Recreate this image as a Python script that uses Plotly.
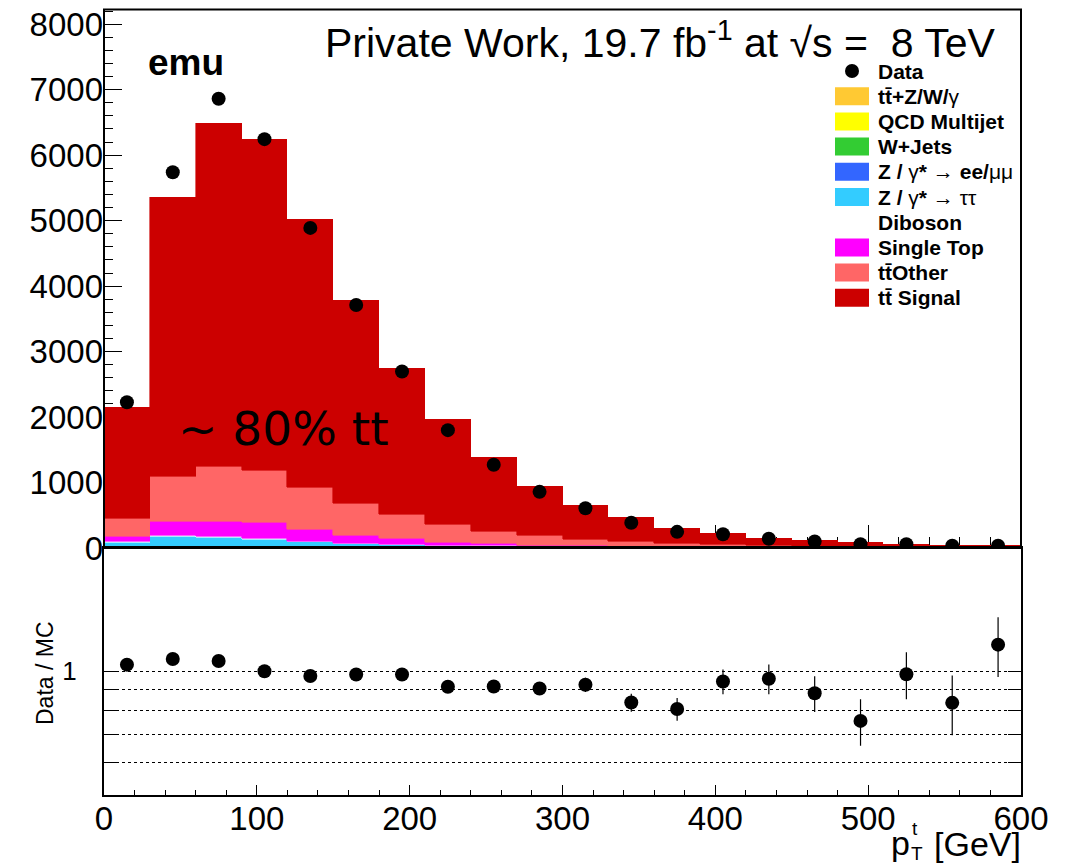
import numpy as np
import plotly.graph_objects as go

# ---------------------------------------------------------------- data
pt_centers = [15, 45, 75, 105, 135, 165, 195, 225, 255, 285,
              315, 345, 375, 405, 435, 465, 495, 525, 555, 585]
bin_width = 30

tt_v = [1, 12, 14, 13, 11, 9, 7, 5, 4, 3, 2, 1.5, 1, 1, 0.8, 0.6, 0.4, 0.3, 0.2, 0.2]
qcd = [0, 0, 0, 0, 0, 0, 0, 0, 0, 0, 0, 0, 0, 0, 0, 0, 0, 0, 0, 0]
w_jets = [1, 2, 2, 2, 1.5, 1, 1, 0.5, 0.5, 0.3, 0.2, 0.1, 0.1, 0.1, 0.1, 0, 0, 0, 0, 0]
z_ll = [10, 8, 7, 5, 4, 3, 2, 2, 1, 1, 0.5, 0.5, 0.3, 0.3, 0.2, 0.2, 0.1, 0.1, 0.1, 0.1]
z_tautau = [68, 155, 135, 112, 80, 54, 40, 30, 22, 15, 11, 8, 6, 4, 3, 2.5, 2, 1.5, 1, 0.8]
diboson = [12, 15, 15, 13, 10, 8, 6, 5, 4, 3, 2, 2, 1, 1, 1, 0.7, 0.5, 0.4, 0.3, 0.3]
single_top = [82, 208, 235, 243, 175, 119, 88, 47, 30, 23, 16, 10, 8, 6, 3, 2, 1, 0.7, 0.4, 0.6]
tt_other = [275, 695, 835, 803, 646, 484, 371, 272, 193, 153, 105, 70, 55, 39, 28, 24, 16, 12, 8, 6]
tt_signal = [1696, 4265, 5237, 5054, 4093, 3102, 2230, 1603, 1130, 747,
             518, 368, 234, 171, 112, 82, 58, 44, 33, 23]

data_counts = [2226, 5740, 6862, 6245, 4889, 3712, 2696, 1800, 1271, 858,
               607, 386, 247, 210, 142, 99, 59, 58, 36, 36]

x_ticks = [0, 100, 200, 300, 400, 500, 600]
y_ticks = [0, 1000, 2000, 3000, 4000, 5000, 6000, 7000, 8000]
ratio_grid = [0.6, 0.7, 0.8, 0.9, 1.0]

# stacking order: bottom -> top (legend lists them top -> bottom)
components = [
    ("ttV", tt_v, "#ffc933", "<b>tt\u0304+Z/W/</b>\u03b3"),
    ("QCD", qcd, "#ffff00", "<b>QCD Multijet</b>"),
    ("WJets", w_jets, "#33cc33", "<b>W+Jets</b>"),
    ("Zll", z_ll, "#3366ff", "<b>Z / </b>\u03b3<b>*</b> \u2192 <b>ee/</b>\u03bc\u03bc"),
    ("Ztautau", z_tautau, "#33ccff", "<b>Z / </b>\u03b3<b>*</b> \u2192 \u03c4\u03c4"),
    ("Diboson", diboson, "#ffffff", "<b>Diboson</b>"),
    ("SingleTop", single_top, "#ff00ff", "<b>Single Top</b>"),
    ("ttOther", tt_other, "#ff6666", "<b>tt\u0304Other</b>"),
    ("ttSignal", tt_signal, "#cc0000", "<b>tt\u0304 Signal</b>"),
]

mc_total = np.sum([np.array(c[1], dtype=float) for c in components], axis=0)
data_arr = np.array(data_counts, dtype=float)
data_err = np.sqrt(data_arr)
ratio = data_arr / mc_total
ratio_err = data_err / mc_total

# ---------------------------------------------------------------- figure
W, H = 1069, 864
X0, X1 = 104, 1021          # plot frame, pixels
TOP_Y0, SPLIT_Y, BOT_Y1 = 9.5, 548, 794.5


def px(x):
    return x / W


def py(y):
    return 1 - y / H


fig = go.Figure()

for name, vals, color, _ in components:
    fig.add_trace(go.Bar(
        x=pt_centers, y=vals, width=bin_width, name=name,
        marker=dict(color=color, line=dict(color=color, width=0.6)),
        xaxis="x", yaxis="y", showlegend=False, hoverinfo="skip",
    ))

fig.add_trace(go.Scatter(
    x=pt_centers, y=data_counts, mode="markers", name="Data",
    marker=dict(color="black", size=14),
    error_y=dict(type="data", array=data_err, color="black", thickness=1.2, width=0),
    xaxis="x", yaxis="y", showlegend=False,
))

fig.add_trace(go.Scatter(
    x=pt_centers, y=ratio, mode="markers", name="Data / MC",
    marker=dict(color="black", size=14),
    error_y=dict(type="data", array=ratio_err, color="black", thickness=1.2, width=0),
    xaxis="x2", yaxis="y2", showlegend=False,
))

font_main = "Liberation Sans, Arial, Helvetica, sans-serif"

fig.update_layout(
    width=W, height=H, autosize=False,
    margin=dict(l=0, r=0, t=0, b=0, autoexpand=False),
    paper_bgcolor="white", plot_bgcolor="white",
    barmode="stack", bargap=0,
    font=dict(family=font_main, color="black"),
    xaxis=dict(
        domain=[px(X0), px(X1)], anchor="y", range=[0, 600], automargin=False,
        tickvals=x_ticks, showticklabels=False,
        ticks="inside", ticklen=23, tickwidth=1.3, tickcolor="black",
        minor=dict(ticks="inside", ticklen=11, dtick=20, tickwidth=1.3, tickcolor="black"),
        showgrid=False, zeroline=False, showline=False, layer="below traces",
    ),
    yaxis=dict(
        domain=[py(SPLIT_Y), py(TOP_Y0)], anchor="x", range=[0, 8225], automargin=False,
        tickvals=y_ticks, ticks="inside", ticklen=18, tickwidth=1.3, tickcolor="black",
        minor=dict(ticks="inside", ticklen=9, dtick=200, tickwidth=1.3, tickcolor="black"),
        tickfont=dict(size=33, family=font_main),
        showgrid=False, zeroline=False, showline=False, layer="below traces",
    ),
    xaxis2=dict(
        domain=[px(X0), px(X1)], anchor="y2", range=[0, 600], automargin=False,
        tickvals=x_ticks, ticks="inside", ticklen=10, tickwidth=1.3, tickcolor="black",
        minor=dict(ticks="inside", ticklen=5, dtick=20, tickwidth=1.3, tickcolor="black"),
        tickfont=dict(size=33, family=font_main),
        showgrid=False, zeroline=False, showline=True, linecolor="black", linewidth=2,
        mirror=True, ticklabelstandoff=-6,
    ),
    yaxis2=dict(
        domain=[py(BOT_Y1), py(SPLIT_Y)], anchor="x2", type="log", automargin=False,
        range=[np.log10(0.5), np.log10(2.0)],
        tickvals=ratio_grid, ticktext=["", "", "", "", "1"],
        ticks="inside", ticklen=13, tickwidth=1.3, tickcolor="black",
        tickfont=dict(size=26, family=font_main), ticklabelstandoff=20,
        showgrid=True, gridcolor="black", gridwidth=1, griddash="dot",
        zeroline=False, showline=True, linecolor="black", linewidth=2, mirror="ticks",
    ),
)

# frame of the upper panel, drawn above the stacked histograms
fig.add_shape(type="rect", xref="x domain", yref="y domain", x0=0, x1=1, y0=0, y1=1,
              line=dict(color="black", width=2), fillcolor="rgba(0,0,0,0)", layer="above")

annotations = [
    dict(x=px(323), y=py(40), text="Private Work, 19.7 fb<sup>-1</sup> at \u221as =  8 TeV",
         xanchor="left", yanchor="middle", font=dict(size=41, family=font_main)),
    dict(x=px(146), y=py(62), text="<b>emu</b>",
         xanchor="left", yanchor="middle", font=dict(size=37, family=font_main)),
    dict(x=px(176), y=py(428), text="~ 80% tt",
         xanchor="left", yanchor="middle", font=dict(size=47, family="DejaVu Sans")),
    dict(x=px(45), y=py(673), text="Data / MC", textangle=-90,
         xanchor="center", yanchor="middle", font=dict(size=23, family=font_main)),
    # axis title p_T^t [GeV]
    dict(x=px(889), y=py(843), text="p", xanchor="left", yanchor="middle",
         font=dict(size=34, family=font_main)),
    dict(x=px(910), y=py(828), text="t", xanchor="left", yanchor="middle",
         font=dict(size=19, family=font_main)),
    dict(x=px(909), y=py(853), text="T", xanchor="left", yanchor="middle",
         font=dict(size=19, family=font_main)),
    dict(x=px(1023), y=py(844), text="[GeV]", xanchor="right", yanchor="middle",
         font=dict(size=34, family=font_main)),
]

# legend, drawn by hand in the upper-right corner of the upper panel
row_y0, row_step = 71, 25.2
fig.add_shape(type="circle", xref="paper", yref="paper",
              x0=px(845), x1=px(859), y0=py(row_y0 + 7), y1=py(row_y0 - 7),
              fillcolor="black", line=dict(width=0))
annotations.append(dict(x=px(876), y=py(row_y0), text="<b>Data</b>",
                        xanchor="left", yanchor="middle",
                        font=dict(size=21, family=font_main)))
for i, (_, _, color, label) in enumerate(components):
    yc = row_y0 + (i + 1) * row_step
    if color.lower() != "#ffffff":
        fig.add_shape(type="rect", xref="paper", yref="paper",
                      x0=px(835), x1=px(869), y0=py(yc + 9), y1=py(yc - 9),
                      fillcolor=color, line=dict(width=0))
    annotations.append(dict(x=px(876), y=py(yc), text=label,
                            xanchor="left", yanchor="middle",
                            font=dict(size=21, family=font_main)))

for a in annotations:
    a.setdefault("xref", "paper")
    a.setdefault("yref", "paper")
    a.setdefault("showarrow", False)
fig.update_layout(annotations=annotations)

fig.write_html("out.html")
